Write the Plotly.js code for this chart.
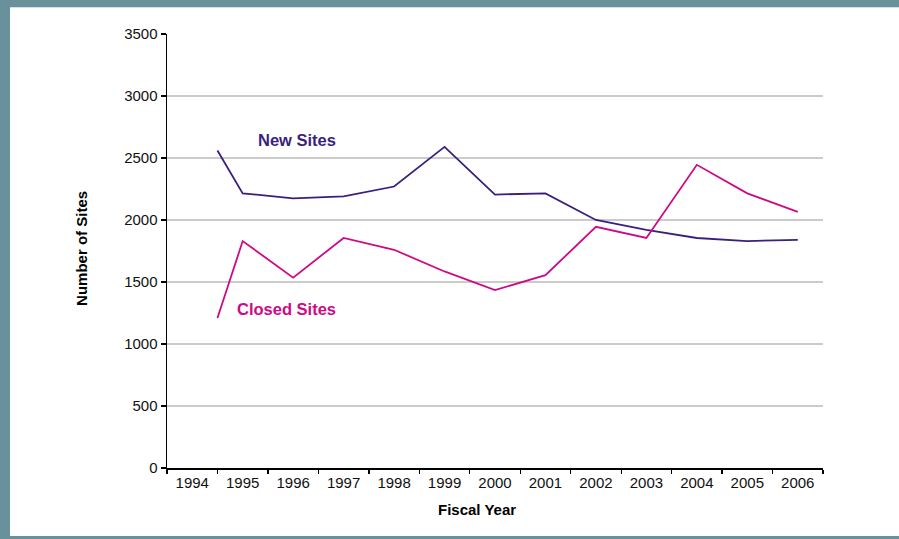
<!DOCTYPE html>
<html>
<head>
<meta charset="utf-8">
<script src="https://cdn.plot.ly/plotly-3.0.1.min.js"></script>
<style>
  html, body { margin: 0; padding: 0; background: #ffffff; }
  #wrap { position: relative; width: 899px; height: 539px; overflow: hidden; }
  #chart { width: 899px; height: 539px; }
  #frame {
    position: absolute; left: 0; top: 0; width: 899px; height: 539px;
    box-sizing: border-box; pointer-events: none;
    border-top: 7px solid #69919b;
    border-left: 10px solid #69919b;
    border-bottom: 3px solid #69919b;
  }
  #frame::after {
    content: ""; position: absolute; left: 0; right: 0; top: 0; height: 1px;
    background: #d3dfe2;
  }
</style>
</head>
<body>
<div id="wrap">
  <div id="chart"></div>
  <div id="frame"></div>
</div>
<script>
// Fiscal years shown on the category axis
const yearLabels = ['1994', '1995', '1996', '1997', '1998', '1999', '2000',
                    '2001', '2002', '2003', '2004', '2005', '2006'];
const yearTicks = [1994, 1995, 1996, 1997, 1998, 1999, 2000,
                   2001, 2002, 2003, 2004, 2005, 2006];

// Series start at the 1994/1995 boundary, then run one point per year
const seriesYears = [1994.5, 1995, 1996, 1997, 1998, 1999, 2000,
                     2001, 2002, 2003, 2004, 2005, 2006];
const newSites = [2560, 2215, 2175, 2190, 2270, 2590, 2205,
                  2215, 2000, 1920, 1855, 1830, 1840];
const closedSites = [1210, 1830, 1535, 1855, 1760, 1585, 1435,
                     1555, 1945, 1855, 2445, 2215, 2065];

const newColor = '#3b1f7e';
const closedColor = '#cc0a86';

// Tick marks sit on the boundaries between fiscal years
const boundaryTicks = [];
for (let i = 0; i <= yearTicks.length; i++) boundaryTicks.push(yearTicks[0] - 0.5 + i);

const traces = [
  {
    x: seriesYears, y: newSites, type: 'scatter', mode: 'lines', name: 'New Sites',
    line: { color: newColor, width: 1.8 }, hoverinfo: 'skip'
  },
  {
    x: seriesYears, y: closedSites, type: 'scatter', mode: 'lines', name: 'Closed Sites',
    line: { color: closedColor, width: 1.8 }, hoverinfo: 'skip'
  }
];

const layout = {
  width: 899, height: 539,
  margin: { l: 167, r: 76, t: 34, b: 71 },
  paper_bgcolor: '#ffffff', plot_bgcolor: '#ffffff',
  showlegend: false,
  font: { family: 'Liberation Sans, Arial, sans-serif', size: 15, color: '#111111' },
  xaxis: {
    range: [1993.5, 2006.5],
    tickmode: 'array', tickvals: yearTicks, ticktext: yearLabels,
    ticks: '', showgrid: false, zeroline: false,
    showline: true, linecolor: '#000000', linewidth: 1.5,
    tickfont: { size: 15, color: '#111111' },
    minor: {
      tickmode: 'array', tickvals: boundaryTicks,
      ticks: 'outside', ticklen: 4, tickwidth: 1.3, tickcolor: '#000000', showgrid: false
    },
    fixedrange: true
  },
  yaxis: {
    range: [0, 3500],
    tickmode: 'array', tickvals: [0, 500, 1000, 1500, 2000, 2500, 3000, 3500],
    ticks: 'outside', ticklen: 5, tickwidth: 1.3, tickcolor: '#000000',
    showgrid: true, gridcolor: '#cbcbcb', gridwidth: 1.6,
    zeroline: false, showline: true, linecolor: '#000000', linewidth: 1.5,
    tickfont: { size: 15, color: '#111111' },
    fixedrange: true
  },
  annotations: [
    {
      x: 1996.08, y: 2645, xref: 'x', yref: 'y', text: '<b>New Sites</b>',
      showarrow: false, font: { size: 16.5, color: newColor }
    },
    {
      x: 1995.87, y: 1282, xref: 'x', yref: 'y', text: '<b>Closed Sites</b>',
      showarrow: false, font: { size: 16.5, color: closedColor }
    },
    {
      x: 0.4726, y: -0.0945, xref: 'paper', yref: 'paper', text: '<b>Fiscal Year</b>',
      showarrow: false, xanchor: 'center', yanchor: 'middle',
      font: { size: 15, color: '#000000' }
    },
    {
      x: -0.1296, y: 0.507, xref: 'paper', yref: 'paper', text: '<b>Number of Sites</b>',
      showarrow: false, textangle: -90, xanchor: 'center', yanchor: 'middle',
      font: { size: 15, color: '#000000' }
    }
  ]
};

Plotly.newPlot('chart', traces, layout, { staticPlot: true, displayModeBar: false });
</script>
</body>
</html>
